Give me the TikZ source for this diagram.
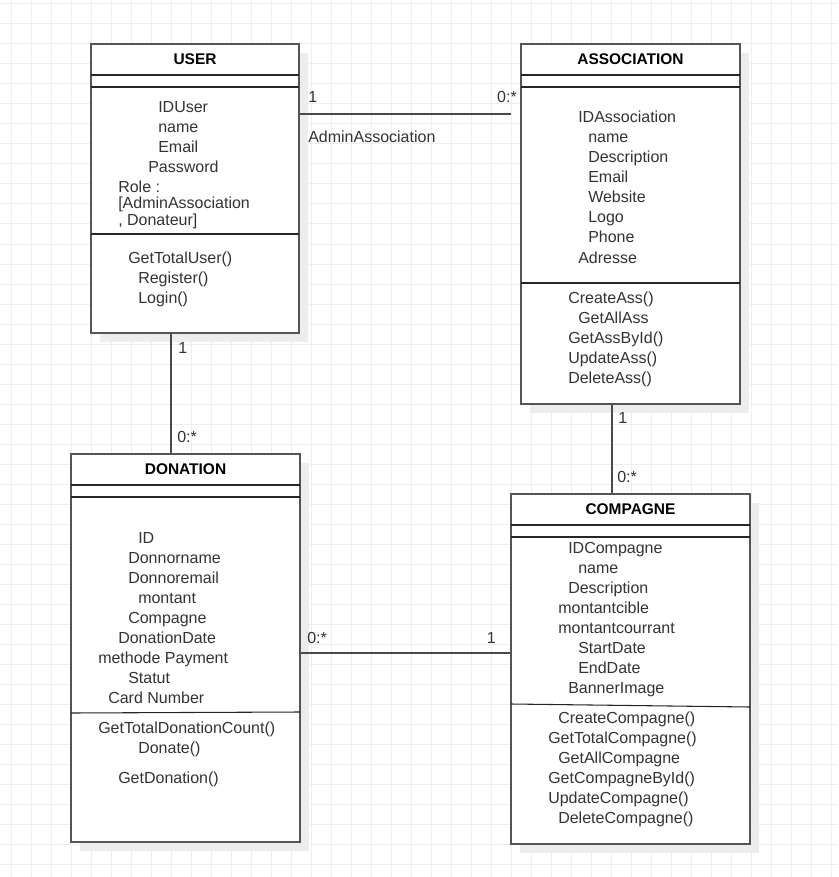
\documentclass[tikz,border=0pt]{standalone}
\usepackage{fontspec}
\setmainfont{Liberation Sans}
\usetikzlibrary{calc}
\definecolor{gridc}{HTML}{EEEEEE}
\definecolor{shadowc}{HTML}{EDEDED}
\definecolor{framec}{HTML}{555555}
\definecolor{textc}{HTML}{333333}
\definecolor{linkc}{HTML}{4A4A4A}

% class box: name, x1, y1, x2, y2, title, first separator y
\newcommand\umlclass[7]{%
  \fill[shadowc] (#2+9,#3+9) rectangle (#4+9,#5+9);
  \node[cls, minimum width={(#4-#2)*0.75pt}, minimum height={(#5-#3)*0.75pt}]
    (#1) at ({(#2+#4)/2},{(#3+#5)/2}) {};
  \node[ttl] (#1-title) at ({(#2+#4)/2},{(#3+#7)/2}) {#6};
  \draw[sepline] (#2,#7) -- (#4,#7);
  \draw[sepline] (#2,#7+12) -- (#4,#7+12);
}

\begin{document}
\begin{tikzpicture}[x=0.75pt,y=-0.75pt,
  cls/.style={draw=framec, line width=1.2pt, fill=white, inner sep=0pt},
  sepline/.style={draw=black!85, line width=0.8pt},
  attr/.style={anchor=base west, inner sep=0pt, text=textc, font=\fontsize{12}{14}\selectfont},
  ttl/.style={anchor=center, inner sep=0pt, font=\bfseries\fontsize{11.6}{14}\selectfont},
  conn/.style={draw=linkc, line width=1.1pt},
  card/.style={anchor=base west, inner sep=0pt, text=textc, font=\fontsize{12}{14}\selectfont},
  cardr/.style={card, anchor=base east}]

\useasboundingbox (0,0) rectangle (838,877);
\fill[white] (0,0) rectangle (838,877);

% background grid
\foreach \gx in {0,...,41} \draw[gridc, line width=0.75pt] ({11.5+20*\gx},0) -- ({11.5+20*\gx},877);
\foreach \gy in {0,...,43} \draw[gridc, line width=0.75pt] (0,{4+20*\gy}) -- (838,{4+20*\gy});

% ---------- classes ----------
\umlclass{user}{91}{44}{299}{333}{USER}{75}
\draw[sepline] (91,234) -- (299,234);
\node[attr] (u1) at (158,113) {IDUser};
\node[attr] (u2) at (158,133) {name};
\node[attr] (u3) at (158,153) {Email};
\node[attr] (u4) at (148,173) {Password};
\node[attr] (u5) at (118,193) {Role :};
\node[attr] (u6) at (118,209) {[AdminAssociation};
\node[attr] (u7) at (118,225) {, Donateur]};
\node[attr] (u8) at (128,263) {GetTotalUser()};
\node[attr] (u9) at (138,283) {Register()};
\node[attr] (u10) at (138,303) {Login()};

\umlclass{assoc}{521}{44}{740}{404}{ASSOCIATION}{75}
\draw[sepline] (521,283) -- (740,283);
\node[attr] (a1) at (578,123) {IDAssociation};
\node[attr] (a2) at (588,143) {name};
\node[attr] (a3) at (588,163) {Description};
\node[attr] (a4) at (588,183) {Email};
\node[attr] (a5) at (588,203) {Website};
\node[attr] (a6) at (588,223) {Logo};
\node[attr] (a7) at (588,243) {Phone};
\node[attr] (a8) at (578,263) {Adresse};
\node[attr] (a9) at (568,303) {CreateAss()};
\node[attr] (a10) at (578,323) {GetAllAss};
\node[attr] (a11) at (568,343) {GetAssById()};
\node[attr] (a12) at (568,363) {UpdateAss()};
\node[attr] (a13) at (568,383) {DeleteAss()};

\umlclass{donation}{71}{454}{300}{842}{DONATION}{485}
\draw[sepline] (71,713) -- (300,712);
\node[attr] (d1) at (138,543) {ID};
\node[attr] (d2) at (128,563) {Donnorname};
\node[attr] (d3) at (128,583) {Donnoremail};
\node[attr] (d4) at (138,603) {montant};
\node[attr] (d5) at (128,623) {Compagne};
\node[attr] (d6) at (118,643) {DonationDate};
\node[attr] (d7) at (98,663) {methode Payment};
\node[attr] (d8) at (128,683) {Statut};
\node[attr] (d9) at (108,703) {Card Number};
\node[attr] (d10) at (98,733) {GetTotalDonationCount()};
\node[attr] (d11) at (138,753) {Donate()};
\node[attr] (d12) at (118,783) {GetDonation()};

\umlclass{camp}{511}{494}{750}{844}{COMPAGNE}{525}
\draw[sepline] (511,704) -- (750,707);
\node[attr] (c1) at (568,553) {IDCompagne};
\node[attr] (c2) at (578,573) {name};
\node[attr] (c3) at (568,593) {Description};
\node[attr] (c4) at (558,613) {montantcible};
\node[attr] (c5) at (558,633) {montantcourrant};
\node[attr] (c6) at (578,653) {StartDate};
\node[attr] (c7) at (578,673) {EndDate};
\node[attr] (c8) at (568,693) {BannerImage};
\node[attr] (c9) at (558,723) {CreateCompagne()};
\node[attr] (c10) at (548,743) {GetTotalCompagne()};
\node[attr] (c11) at (558,763) {GetAllCompagne};
\node[attr] (c12) at (548,783) {GetCompagneById()};
\node[attr] (c13) at (548,803) {UpdateCompagne()};
\node[attr] (c14) at (558,823) {DeleteCompagne()};

% ---------- associations ----------
\coordinate (assocend) at (511,114);
\draw[conn] (user.east |- assocend) -- (assocend);
\node[card] (m1) at (308,103) {1};
\node[cardr] (m2) at (517,103) {0:*};
\node[card] (m3) at (308,143) {AdminAssociation};

\draw[conn] (user.south -| 171,0) -- (donation.north -| 171,0);
\node[card] (m4) at (178,353) {1};
\node[card] (m5) at (177,442) {0:*};

\draw[conn] (assoc.south -| 612,0) -- (camp.north -| 612,0);
\node[card] (m6) at (618,423) {1};
\node[card] (m7) at (617,482) {0:*};

\draw[conn] (donation.east |- 0,653) -- (camp.west |- 0,653);
\node[card] (m8) at (307,643) {0:*};
\node[cardr] (m9) at (496,643) {1};

\end{tikzpicture}
\end{document}
